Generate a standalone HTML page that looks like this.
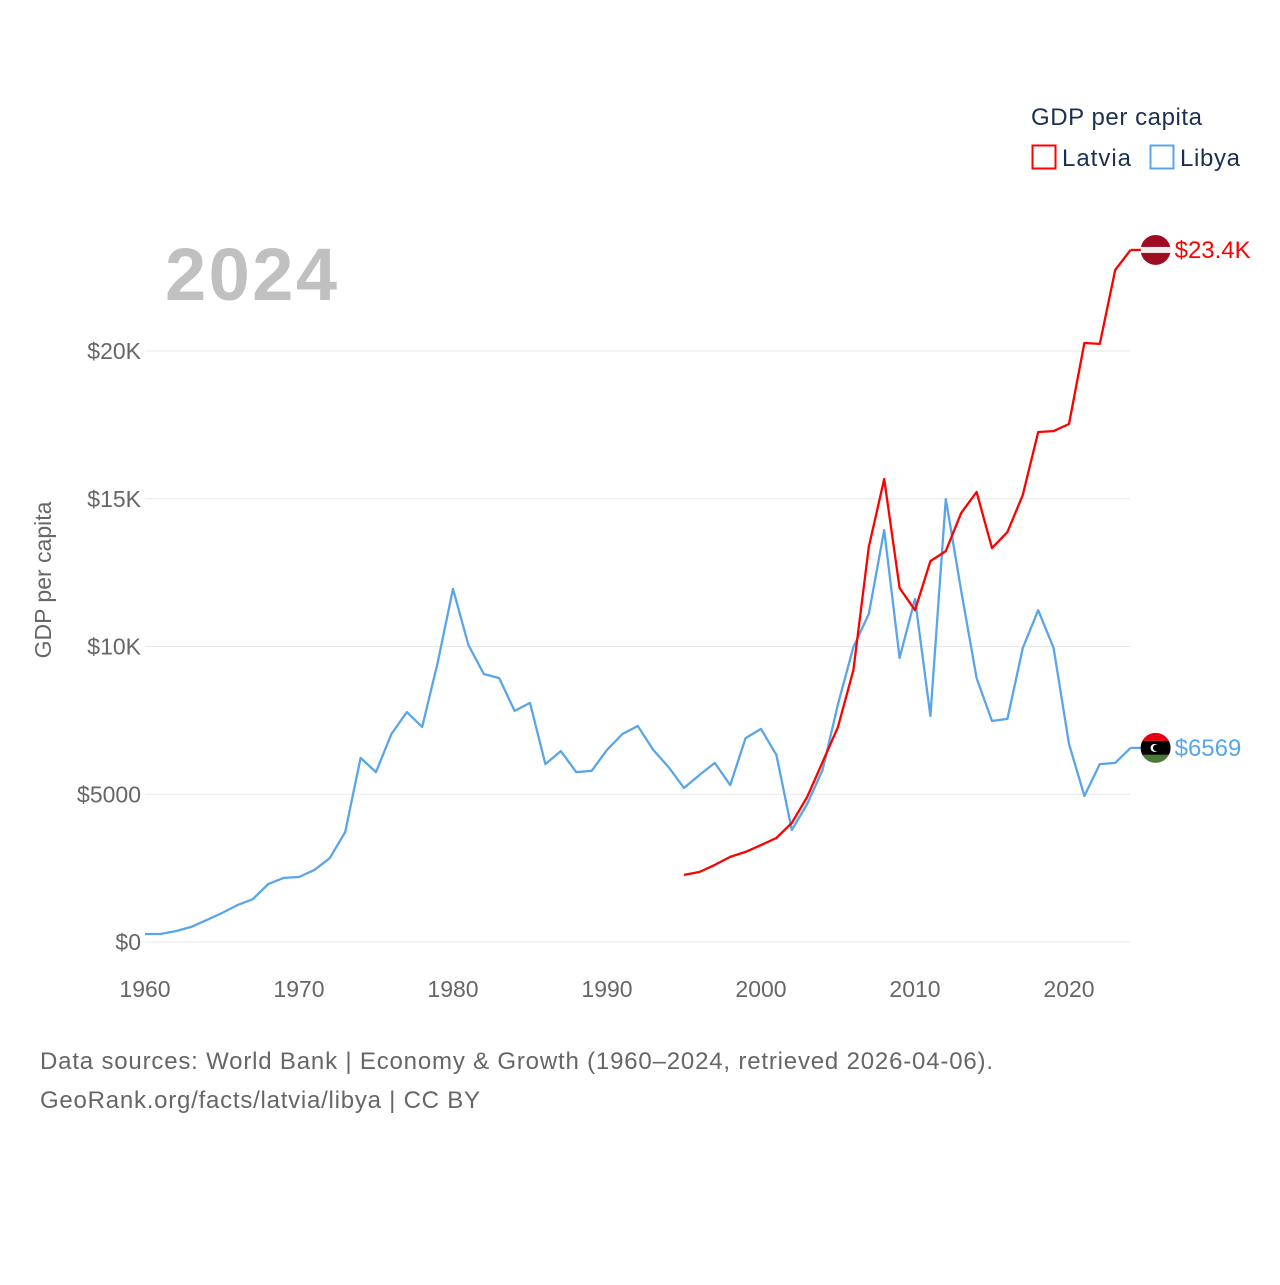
<!DOCTYPE html>
<html><head><meta charset="utf-8"><style>
body{margin:0;background:#fff;font-family:"Liberation Sans",sans-serif;}
svg text{font-family:"Liberation Sans",sans-serif;}
</style></head><body>
<svg id="chart" width="1280" height="1280" viewBox="0 0 1280 1280" xmlns="http://www.w3.org/2000/svg">
<g id="grid"></g>
<g id="yticks"></g>
<g id="xticks"></g>
<text x="165" y="300" font-size="74" font-weight="bold" fill="#c0c0c0" textLength="172">2024</text>
<text transform="translate(51,580) rotate(-90)" text-anchor="middle" font-size="23" fill="#666">GDP per capita</text>
<g id="series"></g>
<g>
<text x="1031" y="125" font-size="24" fill="#1a3050" textLength="171">GDP per capita</text>
<g><rect x="1032.5" y="145.5" width="23" height="23" fill="none" stroke="#ff0000" stroke-width="2"/><text x="1062" y="166" font-size="24" fill="#1a3050" textLength="69">Latvia</text></g>
<g><rect x="1150.5" y="145.5" width="23" height="23" fill="none" stroke="#5aa5e8" stroke-width="2"/><text x="1180" y="166" font-size="24" fill="#1a3050" textLength="60">Libya</text></g>
</g>
<text x="40" y="1069" font-size="24" fill="#666" textLength="953">Data sources: World Bank | Economy &amp; Growth (1960–2024, retrieved 2026-04-06).</text>
<text x="40" y="1108" font-size="24" fill="#666" textLength="440">GeoRank.org/facts/latvia/libya | CC BY</text>
</svg>
<script>
const libyaYears=[];for(let y=1960;y<=2024;y++)libyaYears.push(y);
const libyaValues=[270,270,370,510,740,980,1250,1450,1960,2170,2200,2440,2840,3720,6230,5750,7040,7780,7280,9440,11950,10050,9070,8930,7820,8090,6020,6460,5750,5790,6500,7040,7310,6500,5920,5210,5650,6060,5310,6900,7210,6330,3790,4670,5820,8050,9980,11100,13940,9610,11610,7650,14990,11880,8930,7480,7550,9950,11230,9950,6700,4940,6020,6060,6569];
const latviaYears=[];for(let y=1995;y<=2024;y++)latviaYears.push(y);
const latviaValues=[2270,2370,2610,2880,3050,3280,3520,4030,4910,6090,7280,9200,13370,15670,11980,11230,12890,13230,14520,15230,13330,13870,15130,17260,17290,17530,20270,20240,22740,23420];
const yTicks=[0,5000,10000,15000,20000];
const yTickLabels=["$0","$5000","$10K","$15K","$20K"];
const xTicks=[1960,1970,1980,1990,2000,2010,2020];
const NS="http://www.w3.org/2000/svg";
const X=y=>145+(y-1960)*(1069-145)/60;
const Y=v=>942-v*(942-351)/20000;
function mk(t,a,p){const e=document.createElementNS(NS,t);for(const k in a)e.setAttribute(k,a[k]);p.appendChild(e);return e;}
const svg=document.getElementById('chart'),grid=document.getElementById('grid'),yt=document.getElementById('yticks'),xt=document.getElementById('xticks'),ser=document.getElementById('series');
yTicks.forEach((v,i)=>{
 const l=mk('line',{x1:145,x2:1130,y1:Y(v),y2:Y(v),stroke:'#e8e8e8','stroke-width':1},grid);
 
 
 const t=mk('text',{x:141,y:Y(v)+8,'text-anchor':'end','font-size':23,fill:'#666'},yt);t.textContent=yTickLabels[i];
 
 
});
xTicks.forEach(v=>{
 const t=mk('text',{x:X(v),y:997,'text-anchor':'middle','font-size':23,fill:'#666'},xt);t.textContent=v;
 
 
});
function line(years,vals,color,name){
 const d=years.map((y,i)=>(i?'L':'M')+X(y).toFixed(1)+','+Y(vals[i]).toFixed(1)).join('');
 const p=mk('path',{d:d,fill:'none',stroke:color,'stroke-width':2.3,'stroke-linejoin':'round'},ser);
 
 
}
line(libyaYears,libyaValues,'#5aa5e8','libya-line');
line(latviaYears,latviaValues,'#ff0000','latvia-line');
const lv=latviaValues[latviaValues.length-1],ly=libyaValues[libyaValues.length-1];
const x1=X(2024);
const defs=mk('defs',{},svg);
const c1=mk('clipPath',{id:'clipL'},defs);mk('circle',{cx:x1+25,cy:Y(lv),r:15},c1);
const c2=mk('clipPath',{id:'clipB'},defs);mk('circle',{cx:x1+25,cy:Y(ly),r:15},c2);
const gL=mk('g',{},ser);


mk('line',{x1:x1,x2:x1+12,y1:Y(lv),y2:Y(lv),stroke:'#ff0000','stroke-width':2.3},gL);
const fL=mk('g',{'clip-path':'url(#clipL)'},gL);
mk('rect',{x:x1+10,y:Y(lv)-15,width:30,height:30,fill:'#9e0b22'},fL);
mk('rect',{x:x1+10,y:Y(lv)-3,width:30,height:6,fill:'#eee'},fL);
const tl=mk('text',{x:x1+44,y:Y(lv)+8,'font-size':24,fill:'#ff0000'},gL);tl.textContent='$23.4K';
const gB=mk('g',{},ser);


mk('line',{x1:x1,x2:x1+12,y1:Y(ly),y2:Y(ly),stroke:'#5aa5e8','stroke-width':2.3},gB);
const fB=mk('g',{'clip-path':'url(#clipB)'},gB);
mk('rect',{x:x1+10,y:Y(ly)-15,width:30,height:8,fill:'#e70013'},fB);
mk('rect',{x:x1+10,y:Y(ly)-7,width:30,height:14,fill:'#000'},fB);
mk('rect',{x:x1+10,y:Y(ly)+7,width:30,height:8,fill:'#4a7a36'},fB);
mk('circle',{cx:x1+24,cy:Y(ly),r:4,fill:'#fff'},fB);
mk('circle',{cx:x1+25.5,cy:Y(ly),r:3.2,fill:'#000'},fB);
const tb=mk('text',{x:x1+44,y:Y(ly)+8,'font-size':24,fill:'#5aa5e8'},gB);tb.textContent='$6569';
</script>
</body></html>
